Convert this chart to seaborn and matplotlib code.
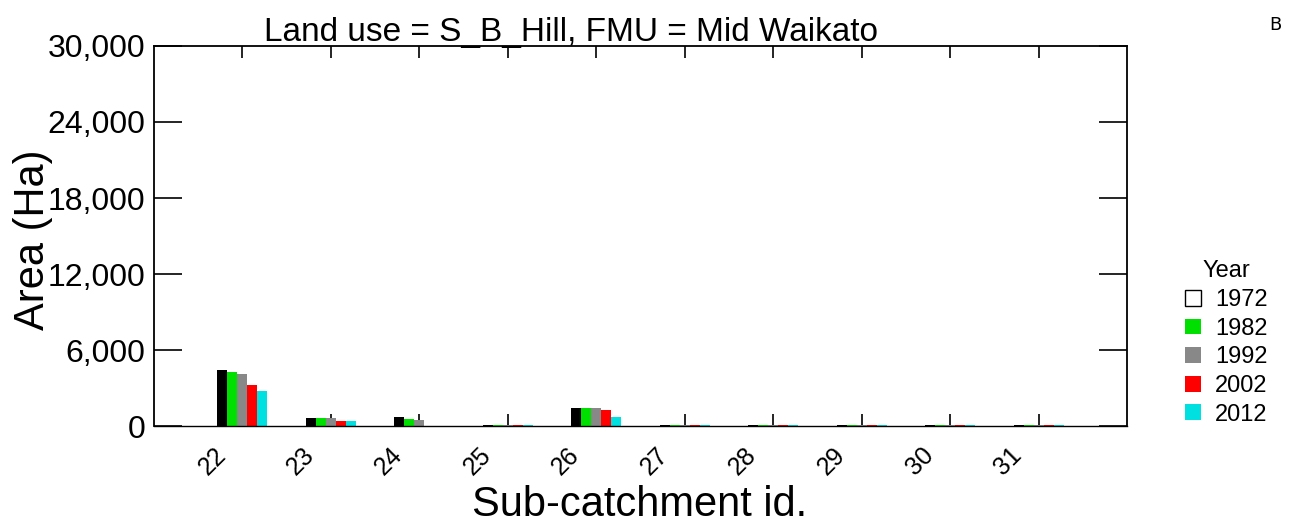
import pandas as pd
import seaborn as sns
import matplotlib.pyplot as plt
from matplotlib.patches import Patch
from matplotlib.transforms import ScaledTranslation

# data
subcatchments = ["22", "23", "24", "25", "26", "27", "28", "29", "30", "31"]
years = ["1972", "1982", "1992", "2002", "2012"]
area_1972 = [4420, 610, 710, 70, 1420, 60, 60, 60, 60, 60]
area_1982 = [4260, 610, 575, 70, 1420, 70, 70, 70, 70, 70]
area_1992 = [4130, 655, 475, 70, 1420, 40, 40, 40, 40, 40]
area_2002 = [3210, 395, 0, 70, 1260, 70, 70, 70, 70, 70]
area_2012 = [2760, 395, 0, 70, 685, 70, 70, 70, 70, 70]
colours = ["#000000", "#00E000", "#888888", "#FF0000", "#00E0E0"]

series = [area_1972, area_1982, area_1992, area_2002, area_2012]
rows = []
for yr, vals in zip(years, series):
    for sc, v in zip(subcatchments, vals):
        rows.append({"Sub": sc, "Year": yr, "Area": v})
df = pd.DataFrame(rows)

sns.set_style("ticks")
plt.rcParams["font.family"] = ["Liberation Sans", "DejaVu Sans"]
plt.rcParams["text.color"] = "black"
plt.rcParams["xtick.color"] = "black"
plt.rcParams["ytick.color"] = "black"

fig = plt.figure(figsize=(12.93, 5.29), dpi=100)
ax = fig.add_axes([154 / 1293, 1 - 426 / 529, (1127 - 154) / 1293, (426 - 46) / 529])

sns.barplot(data=df, x="Sub", y="Area", hue="Year", hue_order=years,
            palette=colours, width=0.565, gap=0, saturation=1,
            edgecolor="none", linewidth=0, ax=ax, legend=False)

ax.set_xlim(-1, 10)
ax.set_ylim(0, 30000)
ax.set_yticks([0, 6000, 12000, 18000, 24000, 30000])
ax.set_yticklabels(["0", "6,000", "12,000", "18,000", "24,000", "30,000"], fontsize=23)
ax.tick_params(axis="y", direction="in", length=20, width=1.2, left=True, right=True, pad=6)
ax.tick_params(axis="x", direction="in", length=8.5, width=1.2, top=True, bottom=True, pad=10)
for s in ax.spines.values():
    s.set_linewidth(1.3)
    s.set_color("black")
    s.set_visible(True)
ax.spines["bottom"].set_linewidth(1.0)

offset = ScaledTranslation(-12 / 100, -3 / 100, fig.dpi_scale_trans)
for lab in ax.get_xticklabels():
    lab.set_rotation(45)
    lab.set_ha("right")
    lab.set_fontsize(18)
    lab.set_color("black")
    lab.set_transform(lab.get_transform() + offset)

ax.set_xlabel("")
ax.set_ylabel("")
fig.text(640 / 1293, 1 - 505 / 529, "Sub-catchment id.", fontsize=30,
         ha="center", va="center")
fig.text(33 / 1293, 1 - 240 / 529, "Area (Ha)", fontsize=30, rotation=90,
         ha="center", va="center")
fig.text(571 / 1293, 1 - 41 / 529, "Land use = S_B_Hill, FMU = Mid Waikato",
         fontsize=24, ha="center", va="baseline")
fig.text(1275 / 1293, 1 - 25 / 529, "B", fontsize=13, ha="center", va="center",
         family="DejaVu Sans")

handles = [Patch(facecolor="white", edgecolor="black", linewidth=1)]
handles += [Patch(facecolor=c, edgecolor="none") for c in colours[1:]]
leg = fig.legend(handles, years, title="Year", loc="center left",
                 bbox_to_anchor=(1164 / 1293, 1 - 343 / 529), frameon=False,
                 fontsize=17, title_fontsize=17, handlelength=0.65, handleheight=0.65,
                 handletextpad=0.6, labelspacing=0.28)

fig.savefig("out.png", dpi=100)
